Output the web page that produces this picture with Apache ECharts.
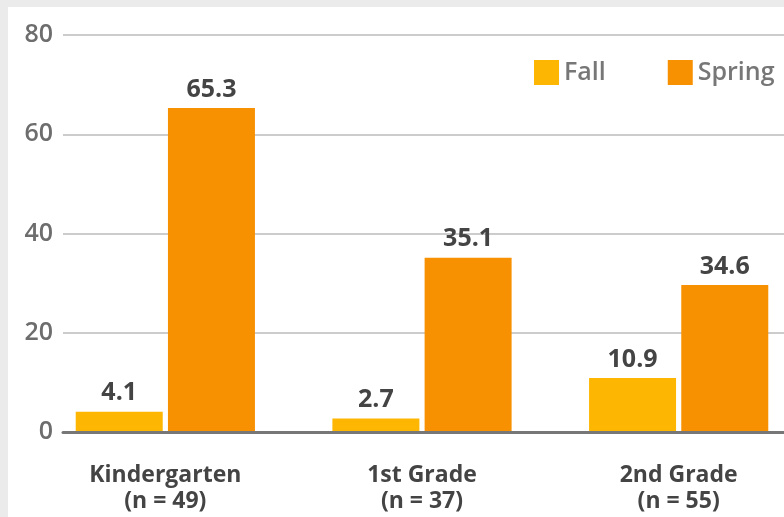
<!DOCTYPE html>
<html><head><meta charset="utf-8">
<script src="https://cdn.jsdelivr.net/npm/echarts@6/dist/echarts.min.js"></script>
<style>html,body{margin:0;padding:0;background:#ebebeb}#c{width:784px;height:517px}</style>
</head><body><div id="c"></div>
<script>
const categories = ['Kindergarten\n(n = 49)', '1st Grade\n(n = 37)', '2nd Grade\n(n = 55)'];
const fallValues = [4.1, 2.7, 10.9];
const springValues = [65.3, 35.1, 29.6];
const fallLabels = ['4.1', '2.7', '10.9'];
const springLabels = ['65.3', '35.1', '34.6'];
const yTicks = [0, 20, 40, 60, 80];

const chart = echarts.init(document.getElementById('c'));
const FONT = 'Open Sans';
const labelStyle = (labels) => ({
  show: true, position: 'top', distance: 6,
  formatter: p => labels[p.dataIndex],
  color: '#444', fontFamily: FONT, fontWeight: 'bold', fontSize: 25
});
chart.setOption({
  backgroundColor: '#ebebeb',
  animation: false,
  graphic: [{ type: 'rect', shape: { x: 8, y: 7, width: 800, height: 520 }, style: { fill: '#ffffff' }, z: -10 }],
  legend: {
    left: 534, top: 60, width: 400, orient: 'horizontal', itemWidth: 25, itemHeight: 25, itemGap: 62,
    icon: 'rect', padding: 0,
    textStyle: { color: '#777', fontFamily: FONT, fontWeight: 600, fontSize: 25 },
    data: ['Fall', 'Spring']
  },
  grid: [
    { left: 63, right: 0, top: 35, bottom: 85, outerBoundsMode: 'none' },
    { left: 37, width: 770, top: 35, bottom: 85, outerBoundsMode: 'none' }
  ],
  xAxis: [
    { type: 'category', gridIndex: 0, data: categories, axisLabel: { show: false }, axisTick: { show: false },
      axisLine: { lineStyle: { color: '#777', width: 3 } }, z: 5 },
    { type: 'category', gridIndex: 1, data: categories, axisTick: { show: false }, axisLine: { show: false },
      axisLabel: { color: '#444', fontFamily: FONT, fontWeight: 'bold', fontSize: 23, lineHeight: 26, margin: 30 } }
  ],
  yAxis: [
    { type: 'value', gridIndex: 0, min: 0, max: 80, interval: 20,
      axisLabel: { color: '#6d6d6d', fontFamily: FONT, fontWeight: 600, fontSize: 25, margin: 10, formatter: v => yTicks.includes(v) ? String(v) : '' },
      axisLine: { show: false }, axisTick: { show: false },
      splitLine: { lineStyle: { color: '#cccccc', width: 2 } } },
    { type: 'value', gridIndex: 1, min: 0, max: 80, interval: 20, show: false, splitLine: { show: false } }
  ],
  series: [
    { name: 'Fall', type: 'bar', xAxisIndex: 1, yAxisIndex: 1, data: fallValues, barWidth: 87, barGap: '6%',
      itemStyle: { color: '#fdb702' }, label: labelStyle(fallLabels) },
    { name: 'Spring', type: 'bar', xAxisIndex: 1, yAxisIndex: 1, data: springValues, barWidth: 87, barGap: '6%',
      itemStyle: { color: '#f89101' }, label: labelStyle(springLabels) }
  ]
});
</script></body></html>
